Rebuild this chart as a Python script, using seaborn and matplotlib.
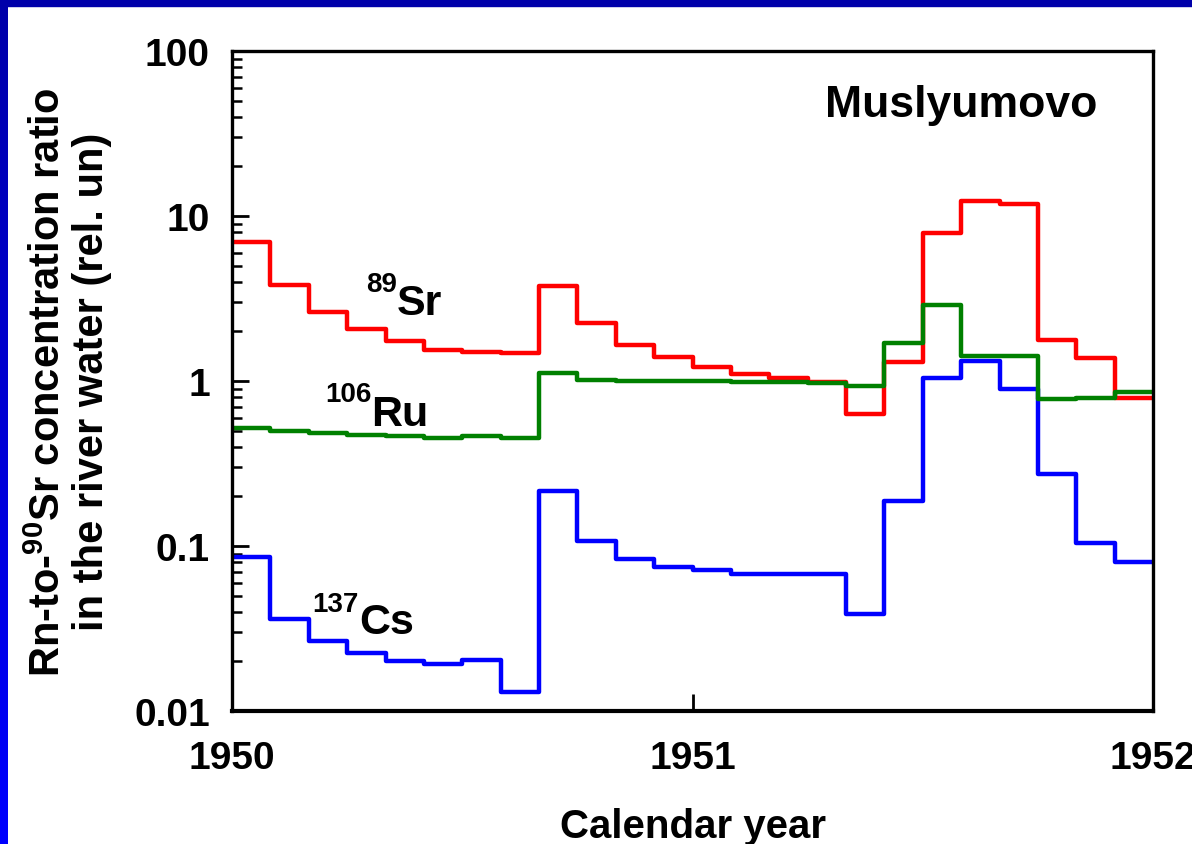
import numpy as np
import pandas as pd
import matplotlib
matplotlib.use("Agg")
import matplotlib.pyplot as plt
from matplotlib.colors import LinearSegmentedColormap
from matplotlib.patches import Rectangle
from matplotlib.ticker import LogLocator, NullFormatter
import seaborn as sns

# monthly values, Jan 1950 .. Dec 1951
sr89 = [7.0, 3.83, 2.63, 2.07, 1.75, 1.55, 1.49, 1.47, 3.78, 2.25, 1.65, 1.39,
        1.21, 1.11, 1.04, 0.99, 0.63, 1.30, 7.85, 12.4, 11.8, 1.78, 1.38, 0.785]
ru106 = [0.521, 0.498, 0.484, 0.471, 0.462, 0.451, 0.462, 0.449, 1.12, 1.01, 1.0, 1.0,
         1.0, 0.99, 0.98, 0.97, 0.937, 1.69, 2.89, 1.41, 1.42, 0.778, 0.789, 0.854]
cs137 = [0.0854, 0.0361, 0.0264, 0.0224, 0.0202, 0.0192, 0.0204, 0.0131, 0.216, 0.107, 0.0834, 0.0746,
         0.0712, 0.068, 0.0675, 0.068, 0.0387, 0.188, 1.04, 1.32, 0.894, 0.273, 0.104, 0.0803]
start_year = 1950
year_ticks = [1950, 1951, 1952]
y_ticks = [0.01, 0.1, 1, 10, 100]
y_ticklabels = ["0.01", "0.1", "1", "10", "100"]

series = {"Cs": cs137, "Sr": sr89, "Ru": ru106}
colors = {"Cs": "#0000ff", "Sr": "#ff0000", "Ru": "#008000"}

rows = []
for name, vals in series.items():
    steps = vals + [vals[-1]]  # close the last month
    for i, v in enumerate(steps):
        rows.append(dict(isotope=name, year=start_year + i / 12, ratio=v))
df = pd.DataFrame(rows)

sns.set_style("ticks")
plt.rcParams["font.family"] = ["Liberation Sans", "DejaVu Sans"]
plt.rcParams["font.weight"] = "bold"
plt.rcParams["text.color"] = "black"
plt.rcParams["axes.labelcolor"] = "black"
plt.rcParams["mathtext.fontset"] = "custom"
plt.rcParams["mathtext.rm"] = "Liberation Sans:bold"
plt.rcParams["mathtext.bf"] = "Liberation Sans:bold"
plt.rcParams["mathtext.default"] = "rm"

fig = plt.figure(figsize=(11.92, 8.45), dpi=100)
fig.patch.set_facecolor("white")

# blue frame (top band + left gradient strip)
fig.patches.append(Rectangle((0, 1 - 7 / 845), 1, 7 / 845, transform=fig.transFigure,
                             color="#0000aa", zorder=10))
strip = fig.add_axes([0, 0, 8 / 1192, 1 - 7 / 845])
cmap = LinearSegmentedColormap.from_list("frame", ["#0000aa", "#0000ff"])
strip.imshow(np.linspace(0, 1, 256).reshape(-1, 1), aspect="auto", cmap=cmap)
strip.axis("off")

ax = fig.add_axes([232 / 1192, 1 - 712 / 845, (1153 - 232) / 1192, 660 / 845])
sns.lineplot(data=df, x="year", y="ratio", hue="isotope", hue_order=["Cs", "Sr", "Ru"],
             palette=colors, drawstyle="steps-post", estimator=None, linewidth=3.2,
             legend=False, ax=ax)

ax.set_yscale("log")
ax.set_ylim(0.01, 100)
ax.set_xlim(1950, 1952)
ax.set_yticks(y_ticks)
ax.set_yticklabels(y_ticklabels)
ax.yaxis.set_minor_locator(LogLocator(base=10, subs=np.arange(2, 10)))
ax.yaxis.set_minor_formatter(NullFormatter())
ax.set_xticks(year_ticks)
ax.set_xticklabels([str(y) for y in year_ticks])

for s in ax.spines.values():
    s.set_linewidth(2.4)
    s.set_color("black")
ax.spines["bottom"].set_linewidth(3.0)

ax.tick_params(axis="both", which="both", direction="in", top=False, right=False,
               labelsize=28, colors="black")
ax.tick_params(axis="y", which="major", length=12, width=2.0, pad=16)
ax.tick_params(axis="y", which="minor", length=7, width=1.8)
ax.tick_params(axis="x", which="major", length=12, width=2.0, pad=21)
for lbl in ax.get_xticklabels() + ax.get_yticklabels():
    lbl.set_fontweight("bold")

ax.set_xlabel("Calendar year", fontsize=29, fontweight="bold", labelpad=22, color="black")
ax.set_ylabel("Rn-to-$^{90}$Sr concentration ratio\nin the river water (rel. un)",
              fontsize=30, fontweight="bold", labelpad=16, linespacing=1.1, color="black")

# isotope labels with superscripted mass numbers
labels = [("89", "Sr", 1950.358, 2.55, 23),
          ("106", "Ru", 1950.303, 0.541, 24),
          ("137", "Cs", 1950.276, 0.0297, 22)]
for mass, elem, x, y, up in labels:
    ax.text(x, y, elem, fontsize=31, fontweight="bold", ha="left", va="baseline", color="black")
    ax.annotate(mass, xy=(x, y), xytext=(0, up * 0.72), textcoords="offset points",
                fontsize=20, fontweight="bold", ha="right", va="baseline", color="black")

ax.text(0.644, 0.9015, "Muslyumovo", transform=ax.transAxes, fontsize=32,
        fontweight="bold", ha="left", va="baseline", color="black")

fig.savefig("out.png", dpi=100)
